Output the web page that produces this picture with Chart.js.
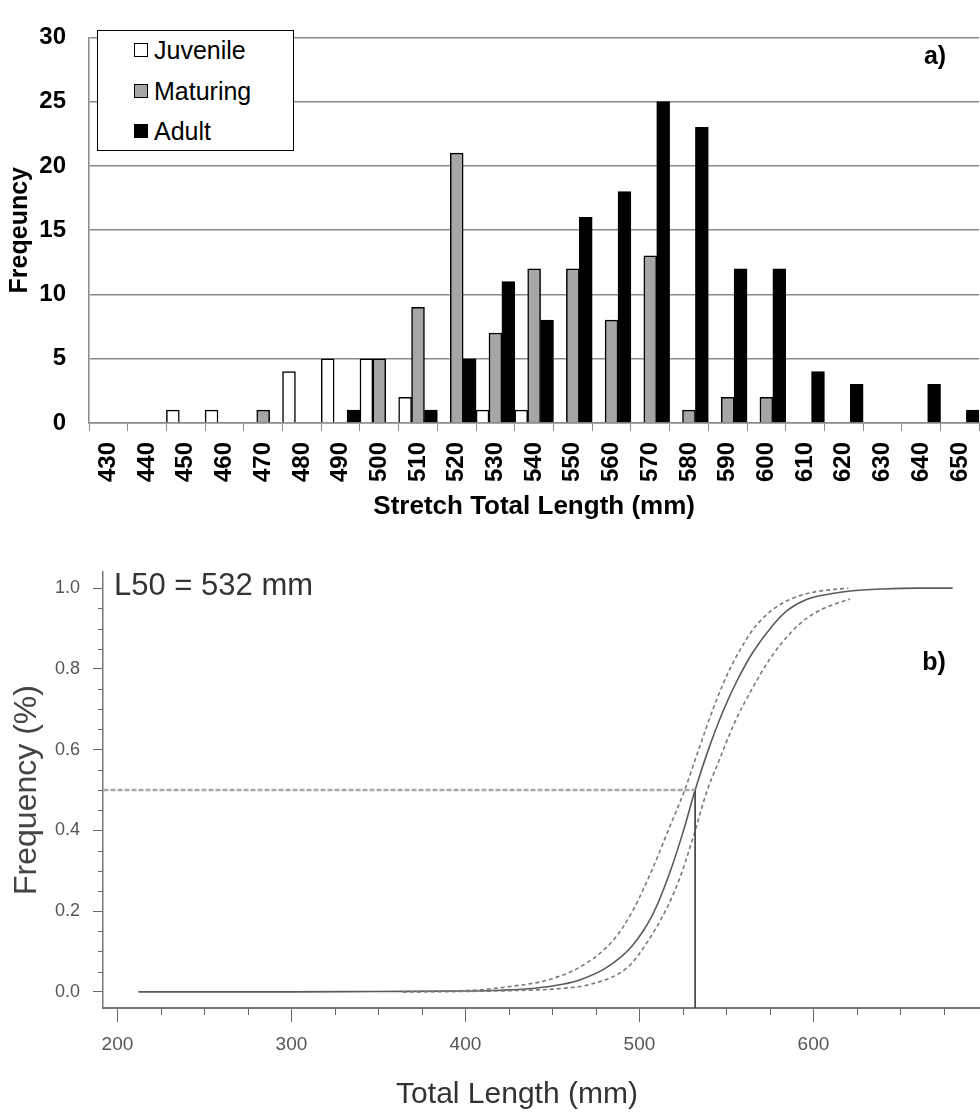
<!DOCTYPE html>
<html>
<head>
<meta charset="utf-8">
<script src="https://cdn.jsdelivr.net/npm/chart.js@4.4.1/dist/chart.umd.min.js"></script>
<style>
  html, body { margin: 0; padding: 0; background: #fff; overflow: hidden; }
  body { width: 980px; height: 1113px; position: relative; font-family: "Liberation Sans", Arial, sans-serif; }
  #wrap-a { position: absolute; left: 0; top: 0; width: 1000px; height: 530px; }
  #wrap-b { position: absolute; left: 0; top: 530px; width: 980px; height: 583px; }
  #legend { position: absolute; left: 97px; top: 30px; width: 195px; height: 119px;
            border: 1.5px solid #000; background: #fff; }
  .item { position: absolute; left: 36px; height: 30px; font-size: 25px; line-height: 30px;
          display: flex; align-items: center; color: #000; }
  .swatch { width: 12px; height: 12px; border: 1px solid #000; margin-right: 6px; }
</style>
</head>
<body>
<div id="wrap-a"><canvas id="chart-a" width="1000" height="530"></canvas></div>
<div id="legend"></div>
<div id="wrap-b"><canvas id="chart-b" width="980" height="583"></canvas></div>

<script>
// ---- panel a) : frequency by stretch total length ----
const lengthClasses = ['430', '440', '450', '460', '470', '480', '490', '500', '510', '520', '530', '540',
                       '550', '560', '570', '580', '590', '600', '610', '620', '630', '640', '650'];
const juvenile = [0, 0, 1, 1, 0, 4, 5, 5, 2, 0, 1, 1, 0, 0, 0, 0, 0, 0, 0, 0, 0, 0, 0];
const maturing = [0, 0, 0, 0, 1, 0, 0, 5, 9, 21, 7, 12, 12, 8, 13, 1, 2, 2, 0, 0, 0, 0, 0];
const adult    = [0, 0, 0, 0, 0, 0, 1, 0, 1, 5, 11, 8, 16, 18, 25, 23, 12, 12, 4, 3, 0, 3, 1];
const freqTicks = [0, 5, 10, 15, 20, 25, 30];

// ---- panel b) : maturity ogive ----
const l50 = 532;
const fitX = [212, 250, 300, 350, 400, 420, 440, 455, 466, 481, 496, 508, 517, 525, 532, 540, 548,
              556, 565, 577, 585, 596, 610, 621, 640, 660, 680];
const fitY = [0, 0, 0, 0.001, 0.002, 0.004, 0.009, 0.018, 0.03, 0.06, 0.115, 0.195, 0.29, 0.395,
              0.5, 0.605, 0.695, 0.77, 0.84, 0.91, 0.945, 0.972, 0.986, 0.993, 0.998, 1, 1];
const upperX = [364, 390, 408, 427, 447, 466, 485, 496, 508, 517, 526, 534, 544, 552, 564, 572, 581,
                590, 600, 610, 620];
const upperY = [0, 0.002, 0.005, 0.014, 0.029, 0.062, 0.128, 0.2, 0.31, 0.405, 0.5, 0.6, 0.72,
                0.8, 0.89, 0.93, 0.96, 0.978, 0.99, 0.996, 1];
const lowerX = [364, 400, 427, 454, 473, 493, 504, 516, 523, 531, 539, 545, 555, 564, 575, 587, 596,
                606, 614, 621];
const lowerY = [0, 0.001, 0.003, 0.008, 0.02, 0.06, 0.12, 0.21, 0.28, 0.385, 0.5, 0.565, 0.67,
                0.745, 0.825, 0.89, 0.925, 0.95, 0.963, 0.973];
const refHX = [192, l50];
const refHY = [0.5, 0.5];
const refVX = [l50, l50];
const refVY = [0.5, -0.04];
const lenTicks = [200, 300, 400, 500, 600];
const propTicks = [0, 0.2, 0.4, 0.6, 0.8, 1.0];

Chart.defaults.font.family = '"Liberation Sans", Arial, sans-serif';
Chart.defaults.animation = false;

const pts = (xs, ys) => xs.map((x, i) => ({ x: x, y: ys[i] }));

// small helper plugin to write panel labels as canvas text
function textPlugin(id, items) {
    return {
        id: id,
        afterDraw(chart) {
            const ctx = chart.ctx;
            items.forEach(t => {
                ctx.save();
                ctx.font = t.font;
                ctx.fillStyle = t.color;
                ctx.textAlign = t.align;
                ctx.textBaseline = 'middle';
                ctx.fillText(t.text, t.x, t.y);
                ctx.restore();
            });
        }
    };
}

const seriesA = [
    { label: 'Juvenile', data: juvenile, fill: '#ffffff' },
    { label: 'Maturing', data: maturing, fill: '#a6a6a6' },
    { label: 'Adult', data: adult, fill: '#000000' }
];

new Chart(document.getElementById('chart-a'), {
    type: 'bar',
    data: {
        labels: lengthClasses,
        datasets: seriesA.map(s => ({
            label: s.label,
            data: s.data,
            backgroundColor: s.fill,
            borderColor: '#000',
            borderWidth: 1.5,
            categoryPercentage: 1.0,
            barPercentage: 1.0
        }))
    },
    options: {
        responsive: false,
        layout: { padding: { top: 22, right: 13, bottom: 0, left: 0 } },
        plugins: { legend: { display: false }, tooltip: { enabled: false } },
        scales: {
            x: {
                grid: { drawOnChartArea: false, tickLength: 8, color: '#8a8a8a', offset: true },
                border: { color: '#8a8a8a', width: 1.5 },
                ticks: { font: { size: 24, weight: 'bold' }, color: '#000', minRotation: 90, maxRotation: 90,
                         padding: 11, autoSkip: false },
                title: { display: true, text: 'Stretch Total Length (mm)', font: { size: 26, weight: 'bold' },
                         color: '#000', padding: { top: 0, bottom: 8 } },
                afterFit: s => { s.height = 107; }
            },
            y: {
                min: 0, max: 30,
                afterBuildTicks: s => { s.ticks = freqTicks.map(v => ({ value: v })); },
                grid: { drawTicks: false, color: '#8a8a8a', lineWidth: 1.5 },
                border: { color: '#8a8a8a', width: 1.5 },
                ticks: { font: { size: 24, weight: 'bold' }, color: '#000', padding: 23 },
                title: { display: true, text: 'Freqeuncy', font: { size: 25, weight: 'bold' }, color: '#000',
                         padding: { top: 5, bottom: 0 } },
                afterFit: s => { s.width = 89; }
            }
        }
    },
    plugins: [textPlugin('labelA', [
        { text: 'a)', x: 935, y: 57, font: 'bold 25px "Liberation Sans", Arial', color: '#000', align: 'center' }
    ])]
});

// legend box for panel a
const legendEl = document.getElementById('legend');
seriesA.forEach((s, i) => {
    const row = document.createElement('div');
    row.className = 'item';
    row.style.top = (4 + i * 40.5) + 'px';
    const sw = document.createElement('span');
    sw.className = 'swatch';
    sw.style.background = s.fill;
    row.appendChild(sw);
    row.appendChild(document.createTextNode(s.label));
    legendEl.appendChild(row);
});

// minor ticks for panel b axes, placed through the scales
const minorTicks = {
    id: 'minorTicks',
    afterDraw(chart) {
        const { ctx, scales: { x, y } } = chart;
        ctx.save();
        ctx.strokeStyle = '#666';
        ctx.lineWidth = 1;
        ctx.beginPath();
        for (let v = 200; v <= x.max; v += 25) {
            if (v % 100 === 0) continue;
            const px = Math.round(x.getPixelForValue(v)) + 0.5;
            ctx.moveTo(px, x.top);
            ctx.lineTo(px, x.top + 7);
        }
        for (let k = 0; k <= 20; k++) {
            if (k % 4 === 0) continue;
            const py = Math.round(y.getPixelForValue(k * 0.05)) + 0.5;
            ctx.moveTo(y.right, py);
            ctx.lineTo(y.right - 5, py);
        }
        ctx.stroke();
        ctx.restore();
    }
};

new Chart(document.getElementById('chart-b'), {
    type: 'line',
    data: {
        datasets: [
            { label: 'L50 level', data: pts(refHX, refHY), borderColor: '#a8a8a8', borderWidth: 2.5,
              borderDash: [5, 2] },
            { label: 'L50', data: pts(refVX, refVY), borderColor: '#444', borderWidth: 1 },
            { label: 'Upper', data: pts(upperX, upperY), borderColor: '#7a7a7a', borderWidth: 1.6,
              borderDash: [4, 3], cubicInterpolationMode: 'monotone' },
            { label: 'Lower', data: pts(lowerX, lowerY), borderColor: '#7a7a7a', borderWidth: 1.6,
              borderDash: [4, 3], cubicInterpolationMode: 'monotone' },
            { label: 'Fitted', data: pts(fitX, fitY), borderColor: '#5a5a5a', borderWidth: 1.6,
              cubicInterpolationMode: 'monotone' }
        ]
    },
    options: {
        responsive: false,
        layout: { padding: { top: 42, right: 0, bottom: 0, left: 0 } },
        elements: { point: { radius: 0 } },
        plugins: { legend: { display: false }, tooltip: { enabled: false } },
        scales: {
            x: {
                type: 'linear', min: 191.7, max: 695.7,
                afterBuildTicks: s => { s.ticks = lenTicks.map(v => ({ value: v })); },
                grid: { drawOnChartArea: false, tickLength: 14, color: '#666' },
                border: { color: '#777', width: 2 },
                ticks: { font: { size: 19 }, color: '#555', padding: 11, maxRotation: 0 },
                afterFit: s => { s.height = 105; }
            },
            y: {
                min: -0.04, max: 1.04,
                afterBuildTicks: s => { s.ticks = propTicks.map(v => ({ value: v })); },
                grid: { drawOnChartArea: false, tickLength: 10, color: '#666' },
                border: { color: '#777', width: 1.5 },
                ticks: { font: { size: 18 }, color: '#555', padding: 13, callback: v => v.toFixed(1) },
                title: { display: true, text: 'Frequency (%)', font: { size: 32 }, color: '#444',
                         padding: { top: 8, bottom: 0 } },
                afterFit: s => { s.width = 103; }
            }
        }
    },
    plugins: [minorTicks, textPlugin('labelB', [
        { text: 'L50 = 532 mm', x: 114, y: 56, font: '31px "Liberation Sans", Arial', color: '#333', align: 'left' },
        { text: 'b)', x: 934, y: 133, font: 'bold 25px "Liberation Sans", Arial', color: '#000', align: 'center' },
        { text: 'Total Length (mm)', x: 517, y: 565, font: '30px "Liberation Sans", Arial', color: '#333', align: 'center' }
    ])]
});
</script>
</body>
</html>
